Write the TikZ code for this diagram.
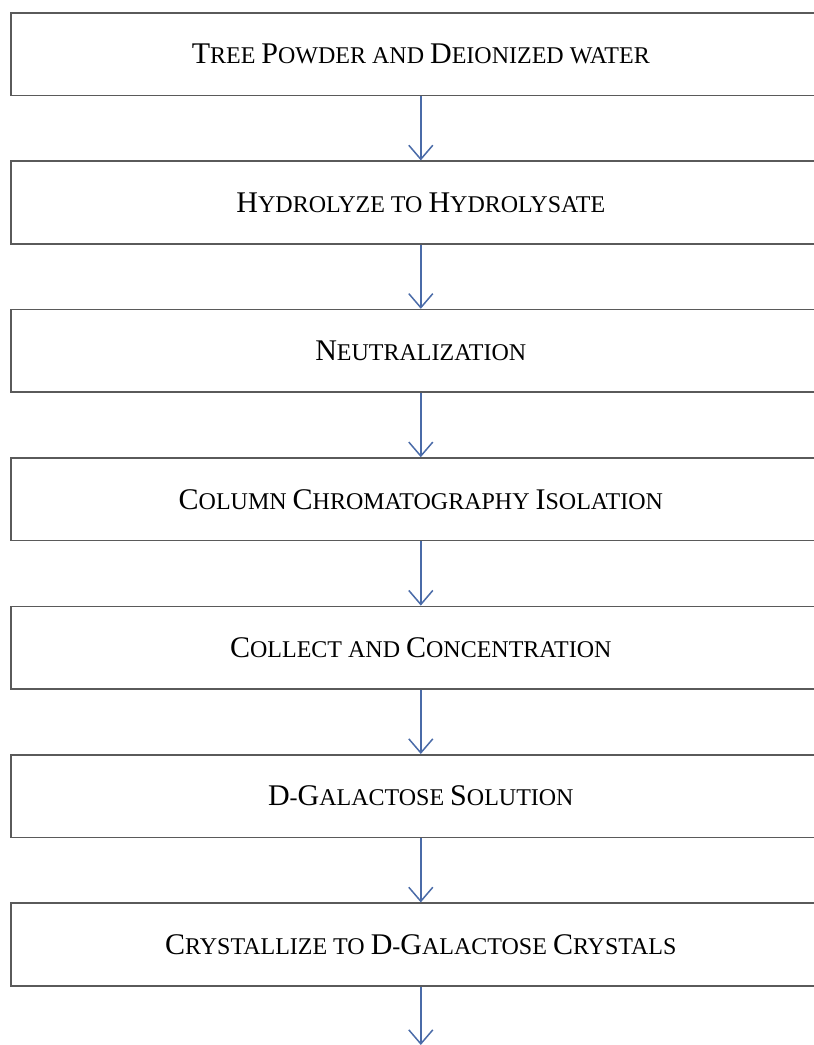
\documentclass[tikz,border=0pt]{standalone}
\usepackage{fontspec}
\setmainfont{Liberation Serif}
\usepackage{tikz}
\usetikzlibrary{arrows.meta, positioning}
\definecolor{boxline}{HTML}{5A5A5A}
\definecolor{flowblue}{HTML}{4A6BA8}
\newcommand{\C}[1]{{\fontsize{30}{32}\selectfont #1}}
\tikzstyle{stepbox} = [
  rectangle, minimum width = 820pt, minimum height = 82.5pt,
  draw = boxline, line width = 1.6pt, text centered,
  font = \fontsize{24}{28}\selectfont, inner sep = 0
]
\tikzstyle{flow} = [
  draw = flowblue, line width = 1.5pt,
  -{Straight Barb[length = 14pt, width = 24pt, line width = 1.5pt]}
]

\begin{document}
\begin{tikzpicture}[x = 1pt, y = -1pt, node distance = 64.3pt]
      \useasboundingbox (0, 0) rectangle (814, 1045);
      % 1
      \node [stepbox, anchor = north west] (box-1) at (10, 12)
        {\C{T}REE \C{P}OWDER AND \C{D}EIONIZED WATER};
      % 2
      \node [stepbox, below = of box-1] (box-2)
        {\C{H}YDROLYZE TO \C{H}YDROLYSATE};
      % 3
      \node [stepbox, below = of box-2] (box-3)
        {\C{N}EUTRALIZATION};
      % 4
      \node [stepbox, below = of box-3] (box-4)
        {\C{C}OLUMN \C{C}HROMATOGRAPHY \C{I}SOLATION};
      % 5
      \node [stepbox, below = of box-4] (box-5)
        {\C{C}OLLECT AND \C{C}ONCENTRATION};
      % 6
      \node [stepbox, below = of box-5] (box-6)
        {\C{D}-\C{G}ALACTOSE \C{S}OLUTION};
      % 7
      \node [stepbox, below = of box-6] (box-7)
        {\C{C}RYSTALLIZE TO \C{D}-\C{G}ALACTOSE \C{C}RYSTALS};
      \coordinate (end) at (box-7.south |- 0, 1045);

      \draw [flow] (box-1) -- (box-2);
      \draw [flow] (box-2) -- (box-3);
      \draw [flow] (box-3) -- (box-4);
      \draw [flow] (box-4) -- (box-5);
      \draw [flow] (box-5) -- (box-6);
      \draw [flow] (box-6) -- (box-7);
      \draw [flow] (box-7) -- (end);
    \end{tikzpicture}
\end{document}
